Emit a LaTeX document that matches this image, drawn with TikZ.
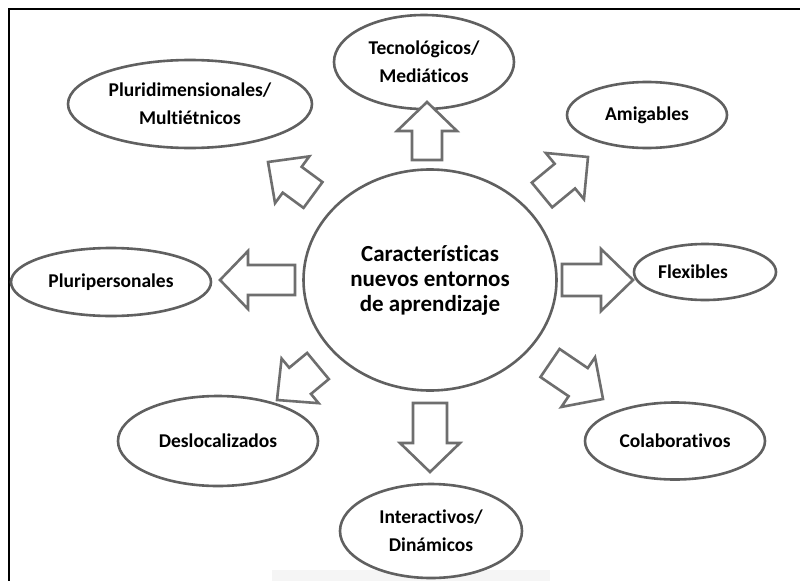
\documentclass[tikz,border=0pt]{standalone}
\usepackage{fontspec}
\setmainfont{Carlito}[Ligatures={NoCommon}]
\usetikzlibrary{shapes.geometric,calc}
\definecolor{ringgray}{HTML}{606060}
\definecolor{arrgray}{HTML}{6E6E6E}
\tikzset{
  oval/.style={ellipse, draw=ringgray, line width=2.6pt, fill=white, inner sep=0pt, align=center,
    font=\fontsize{19.5}{28}\selectfont\bfseries},
  hub/.style={ellipse, draw=ringgray, line width=2.6pt, fill=white, inner sep=0pt, align=center,
    font=\fontsize{23}{25}\selectfont\bfseries},
  barrow/.style={draw=arrgray, line width=2.6pt, fill=white, line join=miter}
}
\newcommand\blockarr[5]{%
  \coordinate (bB) at ($(#2)!#5!(#1)$);
  \draw[barrow] ($(#1)!#3!90:(#2)$) -- ($(bB)!#3!90:(#2)$) -- ($(bB)!#4!90:(#2)$) -- (#2)
    -- ($(bB)!#4!-90:(#2)$) -- ($(bB)!#3!-90:(#2)$) -- ($(#1)!#3!-90:(#2)$) -- cycle;}
\begin{document}
\begin{tikzpicture}[x=1pt,y=-1pt]
\useasboundingbox (0,0) rectangle (800,581);
\fill[white] (0,0) rectangle (800,581);
\fill[black!4] (272,570) rectangle (550,581);
\draw[line width=2.4pt] (800,9) -- (9,9) -- (9,581);

\node[hub, minimum width=253pt, minimum height=221pt] (hub) at (430,280)
  {Características\\nuevos entornos\\de aprendizaje};

\node[oval, minimum width=180pt, minimum height=94pt] (tec) at (424,62) {Tecnológicos/\\Mediáticos};
\node[oval, minimum width=244pt, minimum height=88pt] (plu) at (190,104) {Pluridimensionales/\\Multiétnicos};
\node[oval, minimum width=160pt, minimum height=66pt] (ami) at (647,115) {Amigables};
\node[oval, minimum width=200pt, minimum height=68pt] (per) at (111,282) {Pluripersonales};
\node[oval, minimum width=142pt, minimum height=56pt] (fle) at (705,272) {\hspace*{-24pt}Flexibles};
\node[oval, minimum width=200pt, minimum height=90pt] (des) at (218,441) {Deslocalizados};
\node[oval, minimum width=180pt, minimum height=77pt] (col) at (675,441) {Colaborativos};
\node[oval, minimum width=182pt, minimum height=94pt] (int) at (431,531) {Interactivos/\\Dinámicos};

% arrow tails and tips
\coordinate (upT) at (427,160);  \coordinate (upH) at (427,102);
\coordinate (dnT) at (430,403);  \coordinate (dnH) at (430,472);
\coordinate (lfT) at (295,280);  \coordinate (lfH) at (220,280);
\coordinate (rtT) at (562,280);  \coordinate (rtH) at (633,280);
\coordinate (urT) at (542,195);  \coordinate (urH) at (588,157);
\coordinate (ulT) at (313,195);  \coordinate (ulH) at (268,162);
\coordinate (llT) at (318,366);  \coordinate (llH) at (277,400);
\coordinate (lrT) at (550,363);  \coordinate (lrH) at (603,399);

\blockarr{upT}{upH}{15pt}{30pt}{29pt}
\blockarr{dnT}{dnH}{17pt}{30pt}{29pt}
\blockarr{lfT}{lfH}{15pt}{29pt}{28pt}
\blockarr{rtT}{rtH}{16pt}{31pt}{32pt}
\blockarr{urT}{urH}{16pt}{30pt}{30pt}
\blockarr{ulT}{ulH}{16pt}{29pt}{30pt}
\blockarr{llT}{llH}{17pt}{29pt}{30pt}
\blockarr{lrT}{lrH}{17pt}{30pt}{30pt}
\end{tikzpicture}
\end{document}
